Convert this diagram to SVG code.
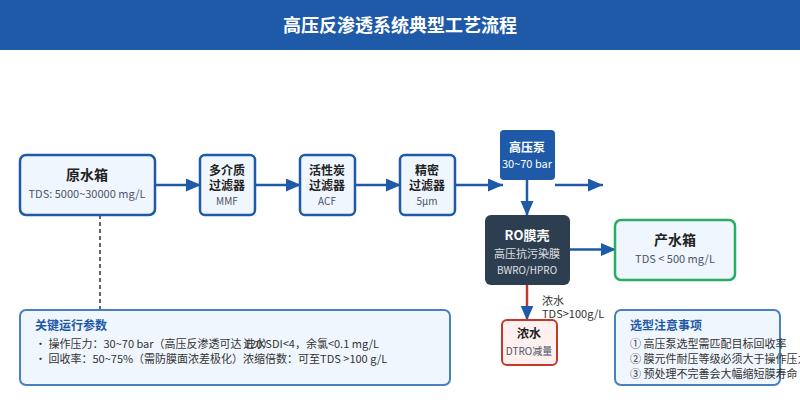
<svg xmlns="http://www.w3.org/2000/svg" width="800" height="400" viewBox="0 0 800 400">
<defs>
<marker id="ah" markerUnits="userSpaceOnUse" markerWidth="16" markerHeight="14" refX="15" refY="6.500" orient="auto"><path d="M0 0L15 6.500L0 13Z" fill="#1e5aa8"/></marker>
</defs>
<style>
text{font-family:"Noto Sans CJK SC","Noto Sans",sans-serif;text-anchor:middle}
.box{fill:#f0f6fe;stroke:#1e5aa8;stroke-width:2.500}
.t{font-weight:700;fill:#222}
.s{fill:#4a5568;font-size:11px}
.x{fill:#4a5568;font-size:10px}
.w{fill:#fff}
.c{fill:none;stroke:#1e5aa8;stroke-width:2.500;marker-end:url(#ah)}
.panel{fill:#f0f6fe;stroke:#4a7fc0;stroke-width:2}
.h{font-size:12px;font-weight:700;fill:#1e5aa8;text-anchor:start}
.l{font-size:11px;fill:#333;text-anchor:start}
</style>
<rect width="800" height="400" fill="#fff"/>
<g id="title"><rect width="800" height="50" fill="#1e5aa8"/><text x="400" y="32" font-size="18" font-weight="700" fill="#fff">高压反渗透系统典型工艺流程</text></g>
<g id="connectors">
<path class="c" d="M155 185H201"/>
<path class="c" d="M255 185H301"/>
<path class="c" d="M355 185H401"/>
<path class="c" d="M455 185H503"/>
<path class="c" d="M555 185H603"/>
<path class="c" d="M527 180V216"/>
<path class="c" d="M570 249.500H616"/>
<path class="c" d="M527 285V320.500" style="stroke:#c0392b"/>
<path d="M100 215V310" fill="none" stroke="#4a5568" stroke-width="1.800" stroke-dasharray="4 3"/>
</g>
<g id="raw-tank"><rect class="box" x="20" y="155" width="135" height="60" rx="6"/><text class="t" x="87" y="180" font-size="14">原水箱</text><text class="s" x="87" y="198">TDS: 5000~30000 mg/L</text></g>
<g id="mmf"><rect class="box" x="200" y="155" width="55" height="60" rx="5"/><text class="t" x="227" y="175" font-size="12">多介质</text><text class="t" x="227" y="190" font-size="12">过滤器</text><text class="x" x="227" y="205">MMF</text></g>
<g id="acf"><rect class="box" x="300" y="155" width="55" height="60" rx="5"/><text class="t" x="327" y="175" font-size="12">活性炭</text><text class="t" x="327" y="190" font-size="12">过滤器</text><text class="x" x="327" y="205">ACF</text></g>
<g id="fine"><rect class="box" x="400" y="155" width="55" height="60" rx="5"/><text class="t" x="427" y="175" font-size="12">精密</text><text class="t" x="427" y="190" font-size="12">过滤器</text><text class="x" x="427" y="205">5μm</text></g>
<g id="pump"><rect x="500" y="130" width="55" height="50" rx="4" fill="#1e5aa8"/><text class="w" x="527" y="152" font-size="12" font-weight="700">高压泵</text><text class="w" x="527" y="168" font-size="11">30~70 bar</text></g>
<g id="ro"><rect x="485" y="215" width="85" height="70" rx="6" fill="#2c3e50"/><text class="w" x="527" y="240" font-size="13" font-weight="700">RO膜壳</text><text class="w" x="527" y="258" font-size="11" opacity=".85">高压抗污染膜</text><text class="w" x="527" y="274" font-size="10" opacity=".85">BWRO/HPRO</text></g>
<g id="product"><rect x="615" y="220" width="120" height="60" rx="6" fill="#f0f6fe" stroke="#27ae60" stroke-width="2.500"/><text class="t" x="675" y="245" font-size="14">产水箱</text><text class="s" x="675" y="263">TDS &lt; 500 mg/L</text></g>
<g id="brine-label"><text class="l" x="542" y="305">浓水</text><text class="l" x="542" y="318">TDS&gt;100g/L</text></g>
<g id="brine"><rect x="502" y="320" width="55" height="45" rx="5" fill="#fdf0ee" stroke="#c0392b" stroke-width="2"/><text class="t" x="529" y="338" font-size="12">浓水</text><text class="x" x="529" y="355">DTRO减量</text></g>
<g id="params"><rect class="panel" x="20" y="310" width="430" height="75" rx="6"/><text class="h" x="35" y="330">关键运行参数</text><text class="l" x="35" y="348">・ 操作压力：30~70 bar（高压反渗透可达 120）</text><text class="l" style="text-anchor:end" x="379" y="348">进水SDI&lt;4，余氯&lt;0.1 mg/L</text><text class="l" x="35" y="363">・ 回收率：50~75%（需防膜面浓差极化）浓缩倍数：可至TDS &gt;100 g/L</text></g>
<g id="notes"><rect class="panel" x="615" y="310" width="165" height="75" rx="6"/><text class="h" x="630" y="330">选型注意事项</text><text class="l" x="630" y="348">① 高压泵选型需匹配目标回收率</text><text class="l" x="630" y="363">② 膜元件耐压等级必须大于操作压力</text><text class="l" x="630" y="378">③ 预处理不完善会大幅缩短膜寿命</text></g>
</svg>
